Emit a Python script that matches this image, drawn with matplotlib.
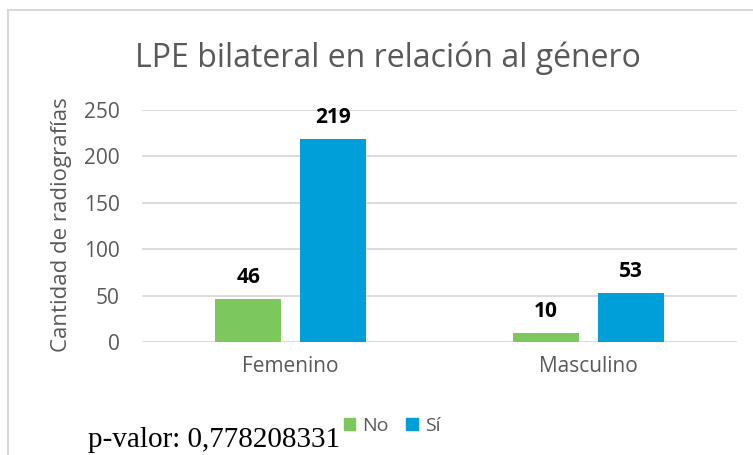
import matplotlib
matplotlib.use("Agg")
import matplotlib.pyplot as plt
import numpy as np
from matplotlib.patches import Rectangle
from matplotlib.lines import Line2D

categories = ["Femenino", "Masculino"]
series_names = ["No", "Sí"]
no_vals = [46, 10]
si_vals = [219, 53]
yticks = [0, 50, 100, 150, 200, 250]
title = "LPE bilateral en relación al género"
ylabel = "Cantidad de radiografías"
pval_text = "p-valor: 0,778208331"

c_no = "#7CC85C"
c_si = "#009FDA"
gray = "#595959"

W, H = 753, 455
fig = plt.figure(figsize=(W/100, H/100), dpi=100)
fam = ["Open Sans", "DejaVu Sans"]

# plot area
x0, x1 = 142, 737
y0, y1 = 342, 110  # pixel rows for 0 and 250
ax = fig.add_axes([x0/W, 1 - y0/H, (x1-x0)/W, (y0-y1)/H])
ax.set_xlim(0, 2)
ax.set_ylim(0, 250)

x = np.arange(len(categories)) + 0.5
bw = 66 / ((x1-x0)/2)
gap = 19 / ((x1-x0)/2)
xn = x - gap/2 - bw/2
xs = x + gap/2 + bw/2
bn = ax.bar(xn, no_vals, bw, color=c_no, zorder=3)
bs = ax.bar(xs, si_vals, bw, color=c_si, zorder=3)

for bars, vals in ((bn, no_vals), (bs, si_vals)):
    for b, v in zip(bars, vals):
        ax.annotate(str(v), (b.get_x()+b.get_width()/2, v), xytext=(0, 8),
                    textcoords="offset points", ha="center", va="bottom",
                    fontsize=15, fontweight="bold", color="black", family=fam)

ax.set_yticks(yticks)
ax.yaxis.grid(True, color="#D9D9D9", linewidth=1.3, zorder=0)
ax.set_axisbelow(True)
for s in ax.spines.values():
    s.set_visible(False)
ax.tick_params(axis="y", length=0, pad=16, labelsize=15, labelcolor=gray)
ax.tick_params(axis="x", length=0, pad=10, labelsize=15, labelcolor=gray)
ax.set_xticks(x)
ax.set_xticklabels(categories, family=fam)
for t in ax.get_yticklabels():
    t.set_family(fam)

fig.text(62/W, 1 - 225/H, ylabel, rotation=90, ha="center", va="center",
         fontsize=16, color=gray, family=fam)
fig.text(388/W, 1 - 58/H, title, ha="center", va="center",
         fontsize=23, color=gray, family=fam)

# frame
fig.add_artist(Line2D([8/W, 8/W], [0, 1 - 10/H], color="#D9D9D9", lw=1.5,
                      transform=fig.transFigure))
fig.add_artist(Line2D([8/W, 1], [1 - 10/H, 1 - 10/H], color="#D9D9D9", lw=1.5,
                      transform=fig.transFigure))

# legend
handles = [Rectangle((0, 0), 1, 1, color=c_no), Rectangle((0, 0), 1, 1, color=c_si)]
leg = fig.legend(handles, series_names, loc="center", bbox_to_anchor=(392/W, 1 - 426/H),
                 ncol=2, frameon=False, handlelength=0.6, handleheight=0.6,
                 handletextpad=0.35, columnspacing=0.9, prop={"family": fam, "size": 14})
for t in leg.get_texts():
    t.set_color(gray)

fig.text(88/W, 1 - 440/H, pval_text, ha="left", va="center", fontsize=21,
         family=["Liberation Serif", "DejaVu Serif"], color="black")

fig.savefig("out.png", dpi=100)
